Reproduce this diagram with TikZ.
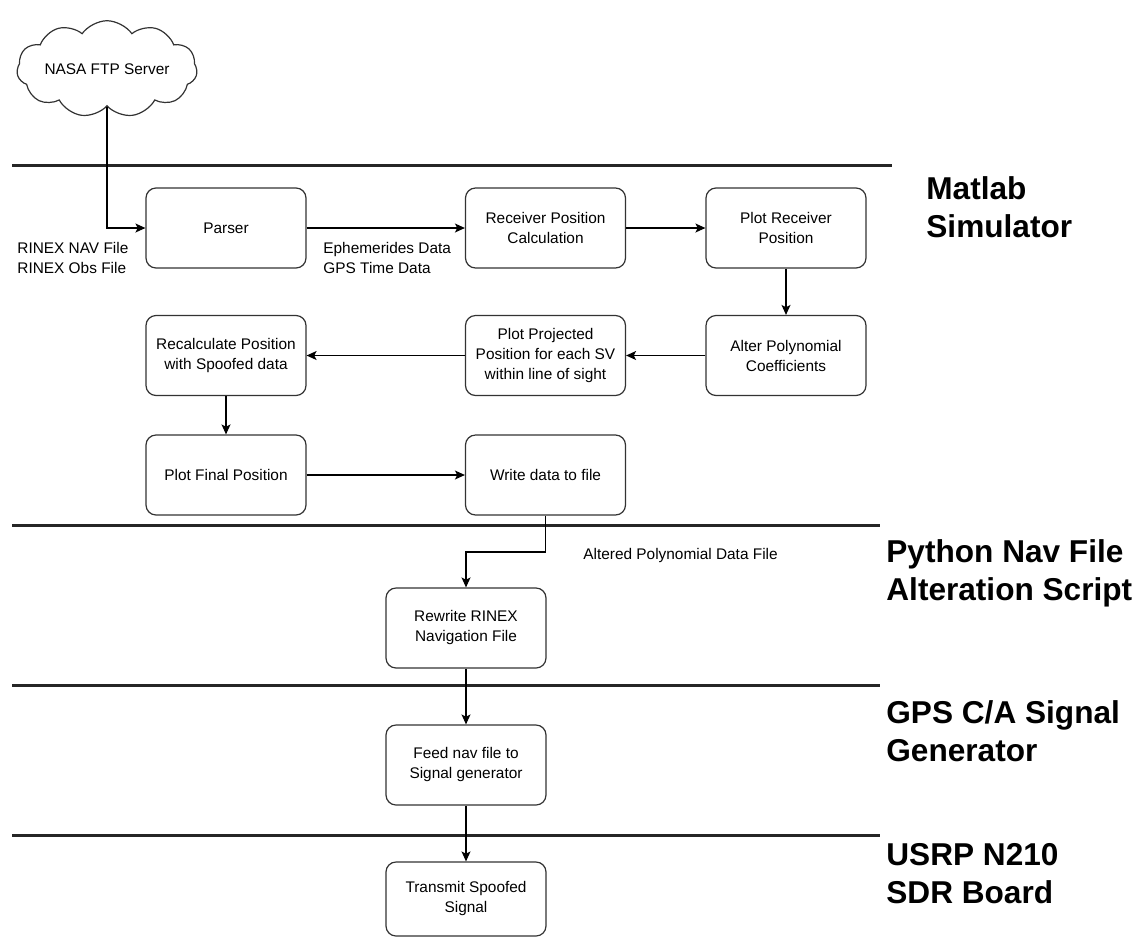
\documentclass[tikz,border=0pt]{standalone}
\usepackage{fontspec}
\setmainfont{Liberation Sans}
\usetikzlibrary{shapes.symbols,arrows.meta}

\tikzset{
  proc/.style={draw=black!80, line width=0.6pt, rounded corners=5pt,
    minimum width=80pt, minimum height=40pt, align=center, inner sep=1pt,
    font=\fontsize{7.7}{10}\selectfont},
  flow/.style={-{Stealth[length=5pt,width=4.5pt,inset=1.2pt]}, line width=0.6pt},
  lane/.style={line width=1.5pt, black!85},
  lanetitle/.style={anchor=north west, inner sep=0pt, align=left,
    font=\fontsize{15.8}{19}\selectfont\bfseries},
  note/.style={anchor=west, inner sep=0pt, align=left,
    font=\fontsize{7.7}{10}\selectfont}
}

\begin{document}
\begin{tikzpicture}[x=0.5pt,y=-0.5pt]
    \useasboundingbox (0,0) rectangle (1140,938);

    % Lane separators
    \foreach \y/\xe in {165/892,525/880,685/880,835/880}
      \draw[lane] (12,\y) -- (\xe,\y);

    % Lane titles
    \node[lanetitle] (matlab) at (926,176) {Matlab\\Simulator};
    \node[lanetitle] (python) at (886,539) {Python Nav File\\Alteration Script};
    \node[lanetitle] (gpsgen) at (886,700) {GPS C/A Signal\\Generator};
    \node[lanetitle] (usrp)   at (886,843) {USRP N210\\SDR Board};

    % Data source
    \node[cloud, draw=black!80, line width=0.6pt, cloud puffs=11, cloud puff arc=110,
      aspect=2.4, minimum width=73pt, minimum height=32pt, inner sep=0pt,
      font=\fontsize{7.7}{10}\selectfont] (nasa) at (107,69) {NASA FTP Server};

    % Matlab simulator
    \node[proc] (parser)    at (226,228)   {Parser};
    \node[proc] (recpos)    at (545.5,228) {Receiver Position\\Calculation};
    \node[proc] (plotrec)   at (786,228)   {Plot Receiver\\Position};
    \node[proc] (alter)     at (786,355.5) {Alter Polynomial\\Coefficients};
    \node[proc] (plotproj)  at (545.5,355.5) {Plot Projected\\Position for each SV\\within line of sight};
    \node[proc] (recalc)    at (226,355.5) {Recalculate Position\\with Spoofed data};
    \node[proc] (plotfinal) at (226,475)   {Plot Final Position};
    \node[proc] (writedata) at (545.5,475) {Write data to file};

    % Nav file, generator, SDR
    \node[proc] (rewrite)  at (466,628) {Rewrite RINEX\\Navigation File};
    \node[proc] (feednav)  at (466,765) {Feed nav file to\\Signal generator};
    \node[proc, minimum height=37pt] (transmit) at (466,899) {Transmit Spoofed\\Signal};

    % Flow labels
    \node[note] (rinex) at (17,257.5)  {RINEX NAV File\\RINEX Obs File};
    \node[note] (ephem) at (323,257.5) {Ephemerides Data\\GPS Time Data};
    \node[note] (altfile) at (583,556) {Altered Polynomial Data File};

    % Connectors
    \coordinate (bend) at (545.5,552);
    \draw[flow] (nasa.south) |- (parser.west);
    \draw[flow] (parser) -- (recpos);
    \draw[flow] (recpos) -- (plotrec);
    \draw[flow] (plotrec) -- (alter);
    \draw[flow] (alter) -- (plotproj);
    \draw[flow] (plotproj) -- (recalc);
    \draw[flow] (recalc) -- (plotfinal);
    \draw[flow] (plotfinal) -- (writedata);
    \draw[flow] (writedata.south) -- (bend) -| (rewrite.north);
    \draw[flow] (rewrite) -- (feednav);
    \draw[flow] (feednav) -- (transmit);

\end{tikzpicture}
\end{document}
